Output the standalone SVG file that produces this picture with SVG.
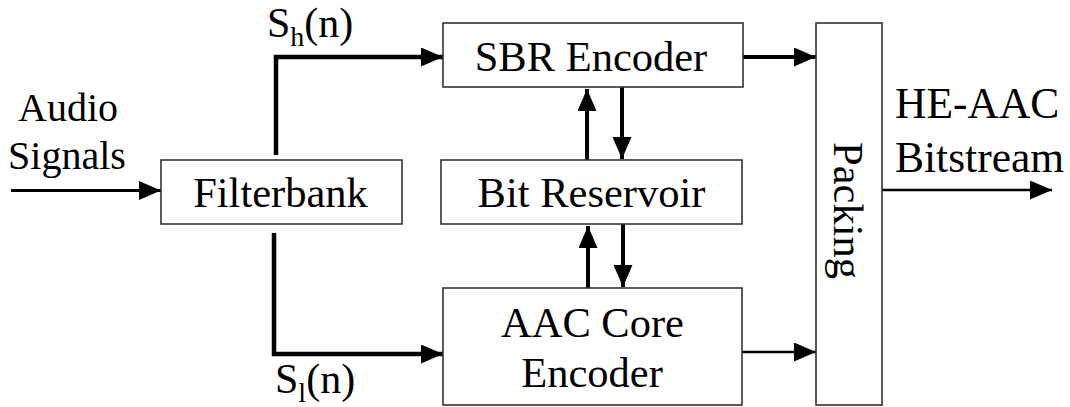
<svg xmlns="http://www.w3.org/2000/svg" width="1070" height="407" viewBox="0 0 1070 407">
<style>
.box{fill:#fff;stroke:#333;stroke-width:1.6}
text{font-family:'Liberation Serif','Times New Roman',serif;fill:#000}
.t{font-size:42.5px}
.a{font-size:40px}
.o{font-size:43.5px}
.s{font-size:42px}
.w{fill:none;stroke:#000}
</style>
<defs>
<marker id="ah" markerUnits="userSpaceOnUse" markerWidth="24" markerHeight="20" refX="22" refY="9.5" orient="auto">
<path d="M0,0 L22,9.5 L0,19 z" fill="#000"/>
</marker>
</defs>
<rect width="1070" height="407" fill="#fff"/>
<g id="connectors">
<line class="w" x1="11" y1="190.5" x2="161" y2="190.5" stroke-width="3" marker-end="url(#ah)"/>
<polyline class="w" points="276,155 276,57 443,57" stroke-width="4.5" marker-end="url(#ah)"/>
<polyline class="w" points="274,233 274,354 443,354" stroke-width="4.5" marker-end="url(#ah)"/>
<line class="w" x1="743" y1="57" x2="816" y2="57" stroke-width="4" marker-end="url(#ah)"/>
<line class="w" x1="742" y1="352" x2="816" y2="352" stroke-width="2.5" marker-end="url(#ah)"/>
<line class="w" x1="882" y1="190" x2="1052" y2="190" stroke-width="2.5" marker-end="url(#ah)"/>
<line class="w" x1="587" y1="160" x2="587" y2="89" stroke-width="4" marker-end="url(#ah)"/>
<line class="w" x1="622" y1="87" x2="622" y2="159" stroke-width="4" marker-end="url(#ah)"/>
<line class="w" x1="588" y1="288" x2="588" y2="226" stroke-width="4" marker-end="url(#ah)"/>
<line class="w" x1="623" y1="224" x2="623" y2="287" stroke-width="4" marker-end="url(#ah)"/>
</g>
<g id="filterbank">
<rect class="box" x="161" y="160" width="241" height="64"/>
<text class="t" x="280.5" y="207" text-anchor="middle">Filterbank</text>
</g>
<g id="sbr">
<rect class="box" x="443" y="23" width="300" height="64"/>
<text class="t" x="591" y="71" text-anchor="middle">SBR Encoder</text>
</g>
<g id="bitres">
<rect class="box" x="441" y="160" width="301" height="64"/>
<text class="t" x="591.5" y="207" text-anchor="middle">Bit Reservoir</text>
</g>
<g id="aac">
<rect class="box" x="443" y="288" width="299" height="117"/>
<text class="t" x="592.5" y="337" text-anchor="middle">AAC Core</text>
<text class="t" x="592" y="387" text-anchor="middle">Encoder</text>
</g>
<g id="packing">
<rect class="box" x="816" y="23" width="66" height="382"/>
<text class="t" x="0" y="0" text-anchor="middle" transform="translate(834,210.5) rotate(90)">Packing</text>
</g>
<g id="labels">
<text class="a" x="68" y="121" text-anchor="middle">Audio</text>
<text class="a" x="67" y="169" text-anchor="middle">Signals</text>
<text class="o" x="895" y="118">HE-AAC</text>
<text class="o" x="895" y="172">Bitstream</text>
<text class="s" x="267" y="37">S<tspan font-size="28" dy="9">h</tspan><tspan dy="-9">(n)</tspan></text>
<text class="s" x="275" y="393">S<tspan font-size="28" dy="9">l</tspan><tspan dy="-9">(n)</tspan></text>
</g>
</svg>
